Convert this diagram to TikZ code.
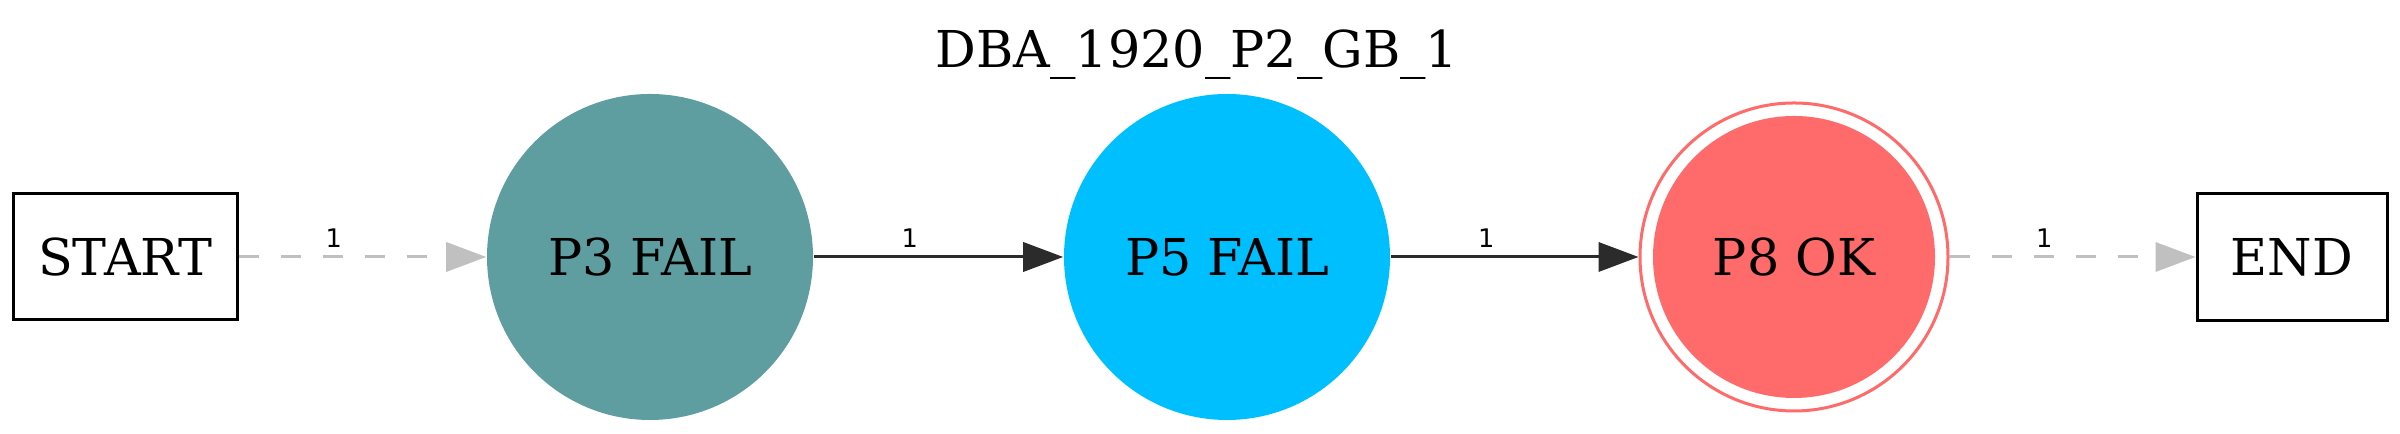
\documentclass[tikz,border=0pt]{standalone}
\usepackage{fontspec}
\setmainfont{DejaVu Serif}
\newfontfamily\labelfont{DejaVu Sans}
\usetikzlibrary{arrows.meta}
\definecolor{p3col}{HTML}{5F9EA0}
\definecolor{p5col}{HTML}{00BFFF}
\definecolor{p8col}{HTML}{FF6A6A}
\definecolor{edgedark}{HTML}{2B2B2B}
\definecolor{edgelight}{HTML}{C0C0C0}
\tikzset{
  boxnode/.style={draw=black, line width=0.75pt, rectangle, inner sep=0pt, font=\fontsize{12.7pt}{15pt}\selectfont},
  statenode/.style={circle, inner sep=0pt, minimum size=81.5pt, font=\fontsize{12.7pt}{15pt}\selectfont},
  solidedge/.style={draw=edgedark, line width=0.75pt, -{Triangle[length=10pt,width=7.3pt]}},
  dashededge/.style={draw=edgelight, line width=0.75pt, dash pattern=on 5pt off 5.5pt, -{Triangle[length=10pt,width=7.3pt]}},
  edgelabel/.style={pos=0.385, anchor=base, yshift=2.25pt, inner sep=0pt, font=\labelfont\fontsize{6.4pt}{8pt}\selectfont, text=black}
}
\begin{document}
\begin{tikzpicture}[x=0.25pt,y=-0.25pt]
\useasboundingbox (0,0) rectangle (2400,434);
\node[anchor=base, inner sep=0pt, font=\fontsize{12.7pt}{15pt}\selectfont] (title) at (1197,68) {DBA\_1920\_P2\_GB\_1};
\node[boxnode, minimum width=56pt, minimum height=31.5pt] (start) at (125,257) {START};
\node[statenode, fill=p3col] (p3) at (650,257) {P3 FAIL};
\node[statenode, fill=p5col] (p5) at (1227,257) {P5 FAIL};
\node[circle, inner sep=0pt, minimum size=70.5pt, fill=p8col] (p8in) at (1794,257) {};
\node[circle, inner sep=0pt, minimum size=77pt, draw=p8col, line width=0.75pt, font=\fontsize{12.7pt}{15pt}\selectfont] (p8) at (1794,257) {P8 OK};
\node[boxnode, minimum width=47.5pt, minimum height=31.75pt] (end) at (2292,257) {END};
\draw[dashededge] (start) -- node[edgelabel] {1} (p3);
\draw[solidedge] (p3) -- node[edgelabel] {1} (p5);
\draw[solidedge] (p5) -- node[edgelabel] {1} (p8);
\draw[dashededge] (p8) -- node[edgelabel] {1} (end);
\end{tikzpicture}
\end{document}
